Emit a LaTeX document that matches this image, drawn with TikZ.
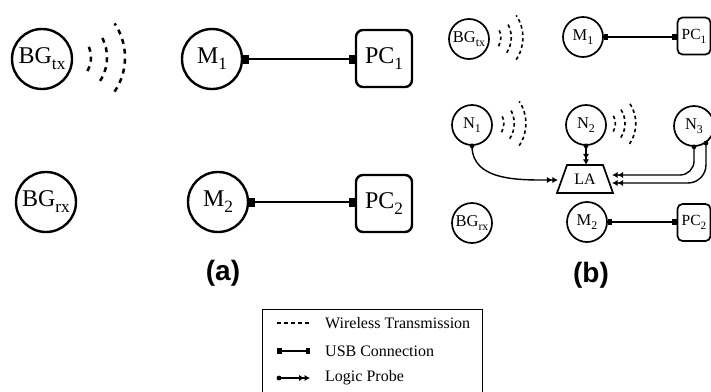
\documentclass[tikz,border=0pt]{standalone}
\usepackage{fontspec}
\setmainfont{Liberation Serif}
\newfontfamily\labfont{Liberation Sans}
\usepackage{graphicx}
\usetikzlibrary{arrows.meta,calc}
\newcommand{\lsub}[1]{\raisebox{-0.25em}{\scalebox{0.72}{#1}}}
\newcommand{\wavesat}[3]{%
  \foreach \r/\a in {27/30,43/33,61/34}{%
    \draw[#3] ($(#1.center)+({22*#2},1.5)+({-\a}:{\r*#2})$) arc[start angle=-\a, end angle=\a, radius={\r*#2}];
  }}
\tikzset{
  probetips/.tip={Latex[length=5.5pt,width=6.5pt] Latex[length=5.5pt,width=6.5pt]},
}
\begin{document}
\begin{tikzpicture}[x=1pt,y=1pt,
  acirc/.style={circle, draw, line width=2.4pt, minimum size=60pt, inner sep=0pt, font=\fontsize{24}{28}\selectfont},
  bcirc/.style={circle, draw, line width=1.7pt, minimum size=40pt, inner sep=0pt, font=\fontsize{16.5}{20}\selectfont},
  abox/.style={draw, rounded corners=7pt, line width=2.4pt, minimum width=56pt, minimum height=57pt, inner sep=0pt, font=\fontsize{24}{28}\selectfont},
  bbox/.style={draw, rounded corners=5pt, line width=1.7pt, minimum width=33pt, minimum height=37pt, inner sep=0pt, font=\fontsize{15.5}{19}\selectfont},
  ausb/.style={line width=2.4pt, {Square[length=6pt,width=9pt]}-{Square[length=6pt,width=9pt]}},
  busb/.style={line width=1.5pt, {Square[length=4.5pt,width=6.5pt]}-{Square[length=4.5pt,width=6.5pt]}},
  probe/.style={line width=1.4pt, -probetips},
  probedot/.style={fill, radius=2.4pt},
  awave/.style={dash pattern=on 5pt off 5pt, line width=2.5pt},
  bwave/.style={dash pattern=on 3.5pt off 3pt, line width=1.6pt},
  plabel/.style={font=\labfont\bfseries\fontsize{28}{32}\selectfont, inner sep=0pt},
  legtext/.style={anchor=west, font=\fontsize{16}{19}\selectfont, inner sep=0pt}
]
\useasboundingbox (0,0) rectangle (711,-391);

% ---------- panel (a) ----------
\node[acirc] (BGtxa) at (42,-59) {BG\lsub{tx}};
\node[acirc] (M1a) at (212,-59) {M\lsub{1}};
\node[abox] (PC1a) at (384,-58.5) {PC\lsub{1}};
\node[acirc] (BGrxa) at (46,-202) {BG\lsub{rx}};
\node[acirc] (M2a) at (218,-202) {M\lsub{2}};
\node[abox] (PC2a) at (384,-203.5) {PC\lsub{2}};
\wavesat{BGtxa}{1}{awave}
\draw[ausb] (M1a.east) -- (M1a.east -| PC1a.west);
\draw[ausb] (M2a.east) -- (M2a.east -| PC2a.west);
\node[plabel] (la) at (223,-273) {(a)};

% ---------- panel (b) ----------
\node[bcirc] (BGtxb) at (469,-39) {BG\lsub{tx}};
\node[bcirc] (M1b) at (583,-37) {M\lsub{1}};
\node[bbox] (PC1b) at (694,-36) {PC\lsub{1}};
\node[bcirc] (N1) at (472,-125) {N\lsub{1}};
\node[bcirc] (N2) at (586,-125) {N\lsub{2}};
\node[bcirc] (N3) at (694,-126) {N\lsub{3}};
\node[inner sep=0pt, minimum width=54pt, minimum height=28pt, font=\fontsize{16}{19}\selectfont] (LA) at (585,-179) {LA};
\draw[line width=1.7pt, line join=miter]
  ($(LA.center)+(-28,-14)$) -- ($(LA.center)+(28,-14)$) -- ($(LA.center)+(18,14)$) -- ($(LA.center)+(-18,14)$) -- cycle;
\node[bcirc] (BGrxb) at (472,-223) {BG\lsub{rx}};
\node[bcirc] (M2b) at (587,-222) {M\lsub{2}};
\node[bbox] (PC2b) at (694,-222.5) {PC\lsub{2}};
\wavesat{BGtxb}{0.65}{bwave}
\wavesat{N1}{0.65}{bwave}
\wavesat{N2}{0.6}{bwave}
\draw[busb] (M1b.east) -- (M1b.east -| PC1b.west);
\draw[busb] (M2b.east) -- (M2b.east -| PC2b.west);
\draw[probe] (N1.south) to[out=-90,in=180] ([yshift=-1pt]LA.west);
\draw[probe] (N2.south) -- (N2.south |- LA.north);
\draw[probe, rounded corners=14pt] (N3.-90) |- ([yshift=4pt]LA.east);
\draw[probe, rounded corners=18pt] (N3.-55) |- ([yshift=-4pt]LA.east);
\fill[probedot] (N1.south) circle;
\fill[probedot] (N2.south) circle;
\fill[probedot] (N3.-90) circle;
\fill[probedot] (N3.-55) circle;
\node[plabel] (lb) at (591,-275) {(b)};

% ---------- legend ----------
\node[draw, line width=0.9pt, anchor=north west, minimum width=220pt, minimum height=90pt, inner sep=0pt] (legend) at (262,-309) {};
\coordinate (w1) at (277,-323); \coordinate (w2) at (310,-323);
\coordinate (u1) at (277,-351); \coordinate (u2) at (310,-351);
\coordinate (p1) at (279,-378); \coordinate (p2) at (310,-378);
\draw[line width=1.2pt, dash pattern=on 4pt off 3pt] (w1) -- (w2);
\draw[busb] (u1) -- (u2);
\draw[probe] (p1) -- (p2);
\fill[probedot] (p1) circle;
\node[legtext] (t1) at (325,-323) {Wireless Transmission};
\node[legtext] (t2) at (325,-351) {USB Connection};
\node[legtext] (t3) at (325,-378) {Logic Probe};
\end{tikzpicture}
\end{document}
